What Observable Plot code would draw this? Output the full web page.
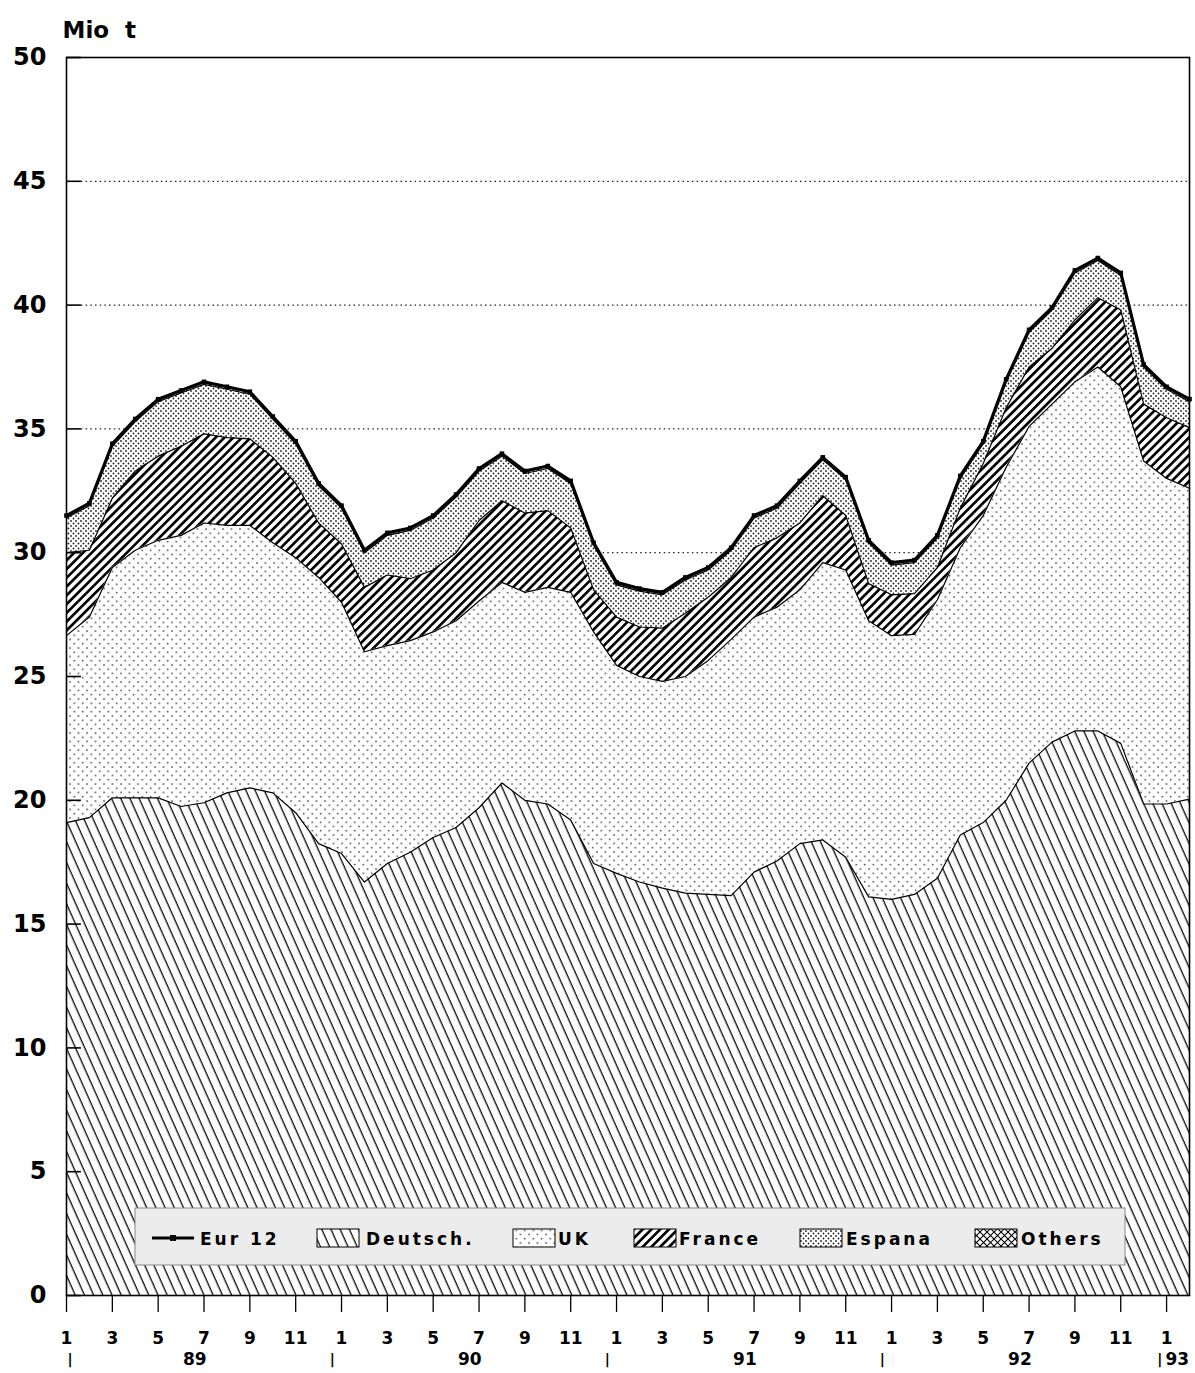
<!DOCTYPE html>
<html><head><meta charset="utf-8">
<script src="https://cdn.jsdelivr.net/npm/d3@7"></script>
<script src="https://cdn.jsdelivr.net/npm/@observablehq/plot@0.6"></script>
<style>
html,body{margin:0;padding:0;background:#fff;}
#chart{position:relative;width:1195px;height:1373px;}
svg text{font-weight:bold;}
</style></head><body><div id="chart"></div>
<script>
// Months Jan 1989 .. Feb 1993 (index 0..49)
const monthIndex = d3.range(50);
const seriesNames = ["Deutsch.", "UK", "France", "Espana", "Others"];

const deutsch = [19.1,19.3,20.1,20.1,20.1,19.75,19.9,20.3,20.5,20.3,19.5,18.25,17.85,16.7,17.45,17.9,18.5,18.9,19.7,20.7,20.0,19.85,19.2,17.45,17.05,16.7,16.45,16.25,16.2,16.15,17.1,17.55,18.25,18.4,17.7,16.1,16.0,16.2,16.85,18.6,19.1,20.0,21.5,22.35,22.8,22.8,22.3,19.85,19.85,20.05];
const uk = [7.55,8.1,9.3,10.0,10.4,10.95,11.3,10.8,10.6,10.1,10.3,10.75,10.15,9.3,8.8,8.55,8.3,8.35,8.35,8.1,8.4,8.75,9.2,9.35,8.4,8.3,8.35,8.75,9.45,10.35,10.3,10.25,10.25,11.2,11.6,11.15,10.65,10.5,11.25,11.6,12.4,13.45,13.6,13.65,14.1,14.7,14.4,13.85,13.15,12.55];
const france = [3.35,2.7,2.8,3.2,3.4,3.6,3.6,3.55,3.5,3.45,3.0,2.2,2.35,2.6,2.85,2.5,2.5,2.75,3.25,3.3,3.2,3.1,2.6,1.7,1.95,2.0,2.15,2.55,2.55,2.5,2.8,2.8,2.7,2.7,2.2,1.5,1.65,1.65,1.3,1.6,2.1,2.4,2.4,2.25,2.5,2.8,3.1,2.3,2.45,2.45];
const espana = [1.4,1.8,2.1,2.0,2.2,2.15,2.0,1.95,1.8,1.55,1.6,1.5,1.45,1.4,1.6,1.95,2.1,2.25,2.0,1.8,1.6,1.7,1.8,1.8,1.3,1.45,1.35,1.35,1.1,1.1,1.2,1.2,1.6,1.45,1.45,1.65,1.2,1.25,1.2,1.2,0.8,1.05,1.4,1.55,1.9,1.5,1.4,1.5,1.15,1.05];
const others = [0.1,0.1,0.1,0.1,0.1,0.1,0.1,0.1,0.1,0.1,0.1,0.1,0.1,0.1,0.1,0.1,0.1,0.1,0.1,0.1,0.1,0.1,0.1,0.1,0.1,0.1,0.1,0.1,0.1,0.1,0.1,0.1,0.1,0.1,0.1,0.1,0.1,0.1,0.1,0.1,0.1,0.1,0.1,0.1,0.1,0.1,0.1,0.1,0.1,0.1];
const eur12 = [31.5,32.0,34.4,35.4,36.2,36.55,36.9,36.7,36.5,35.5,34.5,32.8,31.9,30.1,30.8,31.0,31.5,32.35,33.4,34.0,33.3,33.5,32.9,30.4,28.8,28.55,28.4,29.0,29.4,30.2,31.5,31.9,32.9,33.85,33.05,30.5,29.6,29.7,30.7,33.1,34.5,37.0,39.0,39.9,41.4,41.9,41.3,37.6,36.7,36.2];

const yTicks = [0,5,10,15,20,25,30,35,40,45,50];
const gridY = [5,10,15,20,25,30,35,40,45];
const monthTicks = [0,2,4,6,8,10,12,14,16,18,20,22,24,26,28,30,32,34,36,38,40,42,44,46,48];
const monthLabels = ["1","3","5","7","9","11","1","3","5","7","9","11","1","3","5","7","9","11","1","3","5","7","9","11","1"];
const yearLabels = ["89","90","91","92","93"];
const yearPos = [5.6,17.6,29.6,41.6,47.95];
const yearAnchor = ["middle","middle","middle","middle","start"];
const yearSep = [0.15,11.6,23.6,35.6,47.7];

const seriesValues = [deutsch, uk, france, espana, others];
const long = [];
seriesNames.forEach((s, k) => monthIndex.forEach(i => long.push({i, series: s, value: seriesValues[k][i]})));
const totals = monthIndex.map(i => ({i, value: eur12[i]}));
const fills = ["url(#pDe)","url(#pUk)","url(#pFr)","url(#pEs)","url(#pOt)"];
const years = yearLabels.map((t, k) => ({t, x: yearPos[k], a: yearAnchor[k]}));

const plot = Plot.plot({
  width: 1195, height: 1373,
  marginLeft: 66, marginRight: 6, marginTop: 57, marginBottom: 78,
  style: {fontFamily: "DejaVu Sans", background: "white", color: "black", overflow: "visible"},
  x: {domain: [0, 49]},
  y: {domain: [0, 50]},
  color: {type: "ordinal", domain: seriesNames, range: fills},
  marks: [
    Plot.ruleY(gridY, {x1: 0.65, x2: 49, stroke: "#222", strokeWidth: 1.2, strokeDasharray: "1.5,3.2"}),
    Plot.areaY(long, {x: "i", y: "value", z: "series", fill: "series", order: seriesNames}),
    Plot.lineY(long, Plot.stackY2({x: "i", y: "value", z: "series", order: seriesNames, stroke: "black", strokeWidth: 1.2})),
    Plot.lineY(totals, {x: "i", y: "value", stroke: "black", strokeWidth: 3.2}),
    Plot.dot(totals, {x: "i", y: "value", symbol: "square", r: 2.6, fill: "black"}),
    Plot.ruleY(yTicks, {x1: 0, x2: 0.65, stroke: "black", strokeWidth: 1.6}),
    Plot.axisY({ticks: yTicks, tickSize: 0, tickPadding: 20, fontSize: 24, label: null}),
    Plot.axisX({ticks: monthTicks, tickSize: 17, tickPadding: 19, tickFormat: (d, k) => monthLabels[k], fontSize: 17, label: null, strokeWidth: 1.3}),
    Plot.text(years.filter(d => d.a === "middle"), {x: "x", text: "t", frameAnchor: "bottom", dy: 69, fontSize: 17}),
    Plot.text(years.filter(d => d.a === "start"), {x: "x", text: "t", frameAnchor: "bottom", textAnchor: "start", dy: 69, fontSize: 17}),
    Plot.text(yearSep, {x: d => d, text: () => "|", frameAnchor: "bottom", dy: 68, fontSize: 14, fontWeight: "normal"}),
    Plot.text(["Mio  t"], {frameAnchor: "top-left", textAnchor: "start", dx: -4, dy: -36, fontSize: 23, text: d => d}),
    Plot.frame({stroke: "black", strokeWidth: 1.6})
  ]
});

const svg = d3.select(plot);
const defs = svg.insert("defs", ":first-child");
function pat(id, w, h, rot) {
  const p = defs.append("pattern").attr("id", id).attr("patternUnits", "userSpaceOnUse")
    .attr("width", w).attr("height", h);
  if (rot) p.attr("patternTransform", `rotate(${rot})`);
  p.append("rect").attr("width", w).attr("height", h).attr("fill", "white");
  return p;
}
{ const p = pat("pDe", 8.4, 20, -24); p.append("line").attr("x1", 4).attr("x2", 4).attr("y1", 0).attr("y2", 20).attr("stroke", "black").attr("stroke-width", 1.25); }
{ const p = pat("pUk", 8.5, 8.5); p.append("circle").attr("cx", 2).attr("cy", 2).attr("r", 0.85).attr("fill", "#333"); p.append("circle").attr("cx", 6.25).attr("cy", 6.25).attr("r", 0.85).attr("fill", "#333"); }
{ const p = pat("pFr", 6.2, 10, 45); p.append("line").attr("x1", 3.1).attr("x2", 3.1).attr("y1", 0).attr("y2", 10).attr("stroke", "black").attr("stroke-width", 2.7); }
{ const p = pat("pEs", 5, 5); p.append("circle").attr("cx", 1).attr("cy", 1).attr("r", 0.9).attr("fill", "#222"); p.append("circle").attr("cx", 3.5).attr("cy", 3.5).attr("r", 0.9).attr("fill", "#222"); }
{ const p = pat("pOt", 7, 7); p.append("path").attr("d", "M0,0L7,7M7,0L0,7").attr("stroke", "black").attr("stroke-width", 1.1); }

// Legend inside the plot area
const lg = svg.append("g").attr("font-family", "DejaVu Sans").attr("font-size", 17).attr("letter-spacing", 3).attr("text-anchor", "start");
lg.append("rect").attr("x", 135).attr("y", 1208).attr("width", 990).attr("height", 57).attr("fill", "#ececec").attr("stroke", "#888").attr("stroke-width", 1);
lg.append("line").attr("x1", 152).attr("x2", 194).attr("y1", 1238).attr("y2", 1238).attr("stroke", "black").attr("stroke-width", 3.2);
lg.append("rect").attr("x", 170).attr("y", 1235).attr("width", 6).attr("height", 6).attr("fill", "black");
lg.append("text").attr("x", 200).attr("y", 1245).text("Eur 12");
const legItems = [
  {name: "Deutsch.", fill: "url(#pDe)", sx: 317, tx: 366},
  {name: "UK", fill: "url(#pUk)", sx: 513, tx: 558},
  {name: "France", fill: "url(#pFr)", sx: 634, tx: 679},
  {name: "Espana", fill: "url(#pEs)", sx: 800, tx: 846},
  {name: "Others", fill: "url(#pOt)", sx: 975, tx: 1021}
];
legItems.forEach(d => {
  lg.append("rect").attr("x", d.sx).attr("y", 1229).attr("width", 42).attr("height", 18).attr("fill", d.fill).attr("stroke", "black").attr("stroke-width", 1);
  lg.append("text").attr("x", d.tx).attr("y", 1245).text(d.name);
});

document.getElementById("chart").appendChild(plot);
</script></body></html>
